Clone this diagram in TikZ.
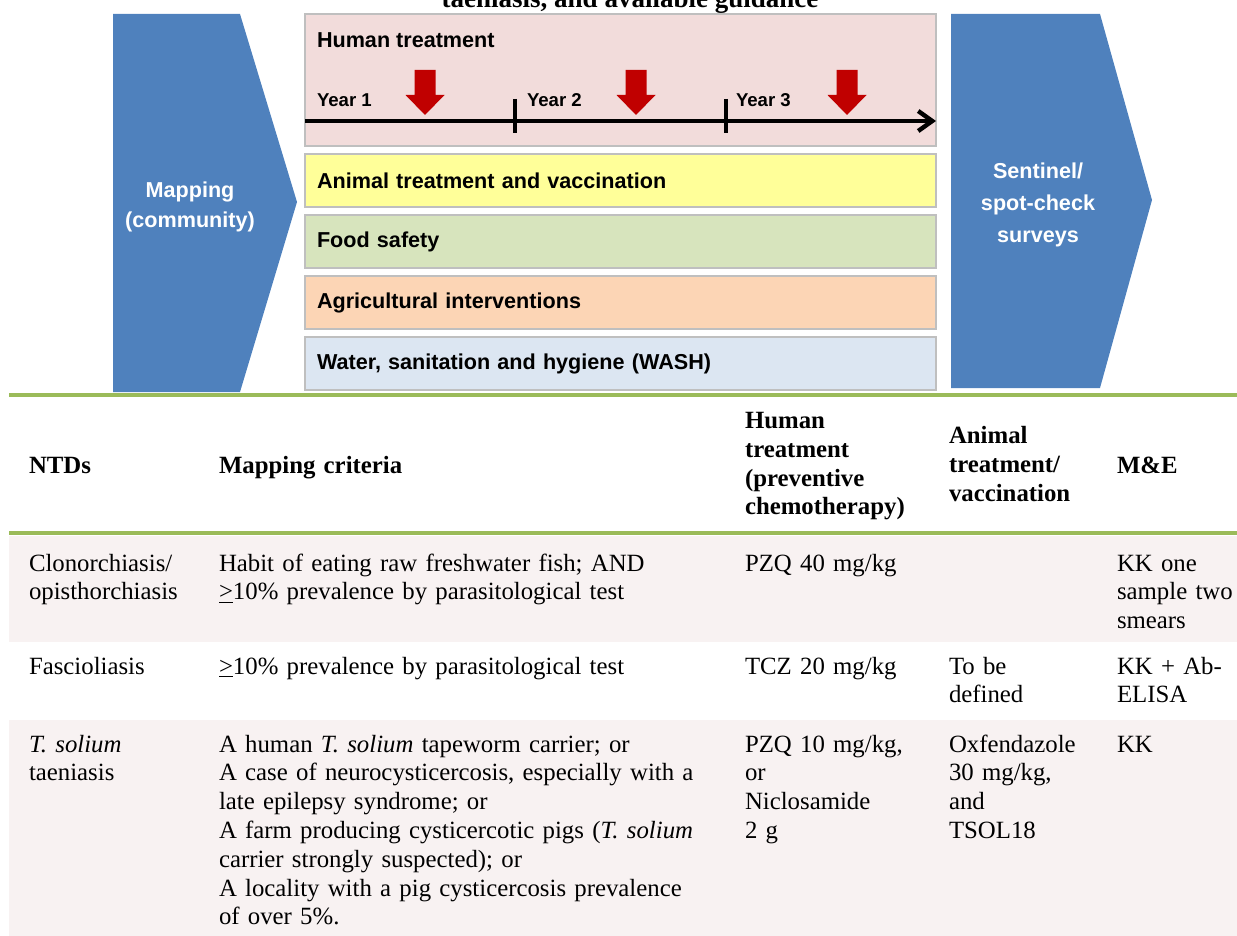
\documentclass[tikz,border=0pt]{standalone}
\usepackage{fontspec}
\setmainfont{Liberation Serif}
\newfontfamily\diagfont{Liberation Sans}
\usepackage{tikz}
\usetikzlibrary{arrows.meta,positioning}
\usepackage{xcolor}
\definecolor{chevblue}{RGB}{79,129,189}
\definecolor{humanpink}{RGB}{242,220,219}
\definecolor{animalyellow}{RGB}{255,255,153}
\definecolor{foodgreen}{RGB}{215,228,189}
\definecolor{agriorange}{RGB}{252,213,181}
\definecolor{washblue}{RGB}{220,230,242}
\definecolor{bandline}{RGB}{191,191,191}
\definecolor{dosered}{RGB}{192,0,0}
\definecolor{rulegreen}{RGB}{155,187,89}
\definecolor{rowpink}{RGB}{248,242,242}

\begin{document}
\begin{tikzpicture}[x=0.5pt, y=-0.5pt,
    every node/.style={inner sep=0pt, outer sep=0pt},
    band/.style={draw=bandline, line width=0.6pt, minimum height=26.5pt, inner xsep=6pt,
        text width=303.5pt, align=left, anchor=north west,
        font=\diagfont\bfseries\fontsize{10.8}{13}\selectfont},
    chevtext/.style={text=white, anchor=base, align=center, text width=80pt,
        font=\diagfont\bfseries\fontsize{10.8}{15}\selectfont},
    yearlabel/.style={anchor=base west, font=\diagfont\bfseries\fontsize{9.3}{11}\selectfont},
    cell/.style={anchor=base west, align=left, text width=#1,
        font=\fontsize{12.4}{14.4}\selectfont},
    head/.style={cell=#1, font=\bfseries\fontsize{12.4}{14.5}\selectfont}]

\useasboundingbox (0,0) rectangle (1237,936);

% Title line, cut off at the top
\begin{scope}
    \clip (0,0) rectangle (1237,14);
    \node[anchor=base, font=\bfseries\fontsize{13.5}{16}\selectfont] (title) at (630,7.5)
        {taeniasis, and available guidance};
\end{scope}

% Chevrons
\fill[chevblue] (113,14) -- (240,14) -- (297,202) -- (240,392) -- (113,392) -- cycle;
\fill[chevblue] (951,14) -- (1100,14) -- (1152,200) -- (1100,388) -- (951,388) -- cycle;
\node[chevtext] (mapping) at (190,198) {Mapping\\(community)};
\node[chevtext, font=\diagfont\bfseries\fontsize{10.8}{16}\selectfont] (sentinel) at (1038,179) {Sentinel/\\spot-check\\surveys};

% Intervention bands
\node[band, fill=humanpink, minimum height=66pt] (human) at (305,14) {};
\node[anchor=base west, font=\diagfont\bfseries\fontsize{10.8}{13}\selectfont] (humantitle) at (317,48) {Human treatment};
\node[band, fill=animalyellow] (animal) at (305,154) {Animal treatment and vaccination};
\node[band, fill=foodgreen] (food) at (305,215) {Food safety};
\node[band, fill=agriorange] (agri) at (305,276) {Agricultural interventions};
\node[band, fill=washblue] (wash) at (305,337) {Water, sanitation and hygiene (WASH)};

% Timeline
\coordinate (tlstart) at (305,121);
\coordinate (tlend) at (936,121);
\draw[line width=2.2pt, -{Straight Barb[length=7pt,width=10pt]}] (tlstart) -- (tlend);
\foreach \x in {515,726} {
    \draw[line width=2pt] (\x,99) -- (\x,133);
}
\foreach \x/\n in {317/1,527/2,736/3} {
    \node[yearlabel] (year\n) at (\x,107) {Year \n};
}
% Treatment rounds (red block arrows)
\foreach \x in {425,636,847} {
    \fill[dosered] (\x-10.5,70) -- (\x+10.5,70) -- (\x+10.5,95) -- (\x+19.5,95)
        -- (\x,115) -- (\x-19.5,95) -- (\x-10.5,95) -- cycle;
}

% Table
\fill[rowpink] (9,536) rectangle (1237,642);
\fill[rowpink] (9,720) rectangle (1237,936);
\draw[rulegreen, line width=1.6pt] (9,395) -- (1237,395);
\draw[rulegreen, line width=1.6pt] (9,533) -- (1237,533);

% Header
\node[head=90pt] (hntd) at (29,473) {NTDs};
\node[head=255pt] (hmap) at (219,473) {Mapping criteria};
\node[head=98pt] (hhum) at (745,428) {Human\\treatment\\(preventive\\chemotherapy)};
\node[head=80pt] (hani) at (949,443) {Animal\\treatment/\\vaccination};
\node[head=58pt] (hme) at (1117,473) {M\&E};

% Row 1
\node[cell=90pt] (ntd1) at (29,571) {Clonorchiasis/\\opisthorchiasis};
\node[cell=255pt] (map1) at (219,571) {Habit of eating raw freshwater fish; AND\\\underline{>}10\% prevalence by parasitological test};
\node[cell=95pt] (hum1) at (745,571) {PZQ 40 mg/kg};
\node[cell=58pt] (me1) at (1117,571) {KK one\\sample two\\smears};

% Row 2
\node[cell=90pt] (ntd2) at (29,674) {Fascioliasis};
\node[cell=255pt] (map2) at (219,674) {\underline{>}10\% prevalence by parasitological test};
\node[cell=95pt] (hum2) at (745,674) {TCZ 20 mg/kg};
\node[cell=80pt] (ani2) at (949,674) {To be\\defined};
\node[cell=58pt] (me2) at (1117,674) {KK + Ab-\\ELISA};

% Row 3
\node[cell=90pt] (ntd3) at (29,752) {\textit{T. solium}\\taeniasis};
\node[cell=255pt] (map3) at (219,752) {A human \textit{T. solium} tapeworm carrier; or\\
    A case of neurocysticercosis, especially with a\\
    late epilepsy syndrome; or\\
    A farm producing cysticercotic pigs (\textit{T. solium}\\
    carrier strongly suspected); or\\
    A locality with a pig cysticercosis prevalence\\
    of over 5\%.};
\node[cell=95pt] (hum3) at (745,752) {PZQ 10 mg/kg,\\or\\Niclosamide\\2 g};
\node[cell=80pt] (ani3) at (949,752) {Oxfendazole\\30 mg/kg,\\and\\TSOL18};
\node[cell=58pt] (me3) at (1117,752) {KK};

\end{tikzpicture}
\end{document}
